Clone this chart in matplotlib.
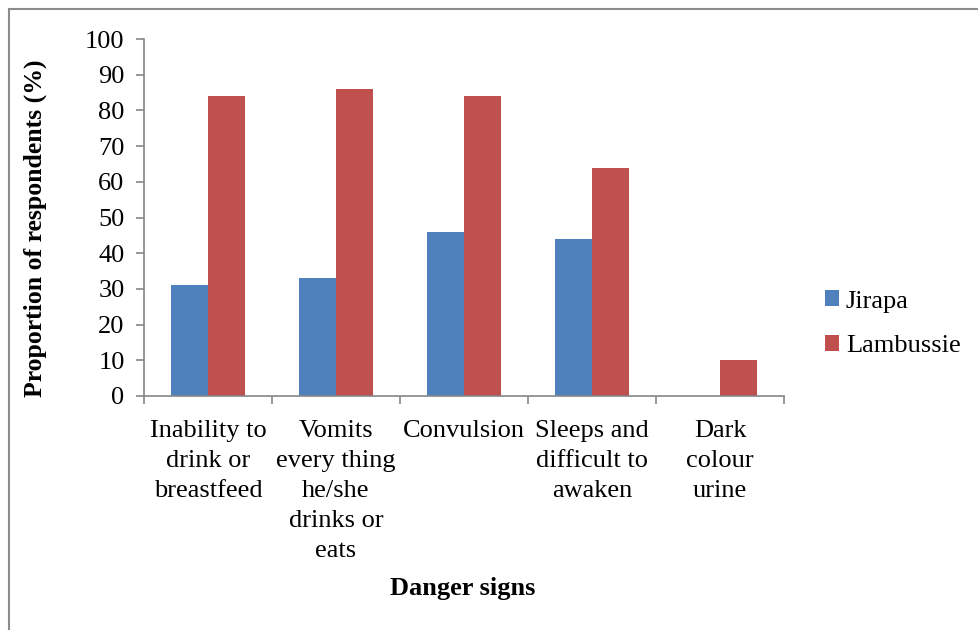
import matplotlib
matplotlib.use("Agg")
import matplotlib.pyplot as plt
from matplotlib.lines import Line2D
import numpy as np

categories = [
    "Inability to\ndrink or\nbreastfeed",
    "Vomits\nevery thing\nhe/she\ndrinks or\neats",
    "Convulsion",
    "Sleeps and\ndifficult to\nawaken",
    "Dark\ncolour\nurine",
]
jirapa = [31, 33, 46, 44, 0]
lambussie = [84, 86, 84, 64, 10]
series_names = ["Jirapa", "Lambussie"]
y_ticks = [0, 10, 20, 30, 40, 50, 60, 70, 80, 90, 100]

plt.rcParams["font.family"] = ["Liberation Serif", "DejaVu Serif"]

fig = plt.figure(figsize=(9.79, 6.30), dpi=100)
ax = fig.add_axes([144 / 979, 1 - 396 / 630, 640 / 979, 357 / 630])

blue = "#4F81BD"
red = "#C0504D"
axis_grey = "#868686"

x = np.arange(len(categories))
w = 1 / 3.5
ax.bar(x - w / 2, jirapa, width=w, color=blue, label=series_names[0])
ax.bar(x + w / 2, lambussie, width=w, color=red, label=series_names[1])

ax.set_xlim(-0.5, len(categories) - 0.5)
ax.set_ylim(0, 100)
ax.set_yticks(y_ticks)
ax.set_yticklabels([str(t) for t in y_ticks], fontsize=19)

ax.set_xticks(x)
ax.set_xticklabels(categories, fontsize=19, linespacing=1.47, va="top")
ax.tick_params(axis="x", length=0, pad=17)
ax.set_xticks(np.arange(-0.5, len(categories), 1), minor=True)
ax.tick_params(axis="x", which="minor", length=6, color=axis_grey, width=1.2, direction="out")
ax.tick_params(axis="y", length=6, color=axis_grey, width=1.2, direction="out", pad=8)

for side in ["top", "right"]:
    ax.spines[side].set_visible(False)
for side in ["left", "bottom"]:
    ax.spines[side].set_color(axis_grey)
    ax.spines[side].set_linewidth(1.2)

fig.text(35 / 979, 1 - 228 / 630, "Proportion of respondents (%)", fontsize=18.5,
         fontweight="bold", rotation=90, ha="center", va="center")
fig.text(463 / 979, 1 - 588 / 630, "Danger signs", fontsize=19, fontweight="bold",
         ha="center", va="center")

ax.legend(loc="center left", bbox_to_anchor=(801 / 979, 1 - 324 / 630),
          bbox_transform=fig.transFigure, frameon=False, fontsize=19,
          handlelength=0.55, handleheight=0.55, handletextpad=0.25, labelspacing=0.85)

# outer frame of the chart area
fig.add_artist(Line2D([9 / 979, 9 / 979], [0, 1 - 9 / 630], transform=fig.transFigure,
                      color="#8c8c8c", linewidth=1.5))
fig.add_artist(Line2D([9 / 979, 1], [1 - 9 / 630, 1 - 9 / 630], transform=fig.transFigure,
                      color="#8c8c8c", linewidth=1.5))

fig.savefig("out.png", dpi=100)
